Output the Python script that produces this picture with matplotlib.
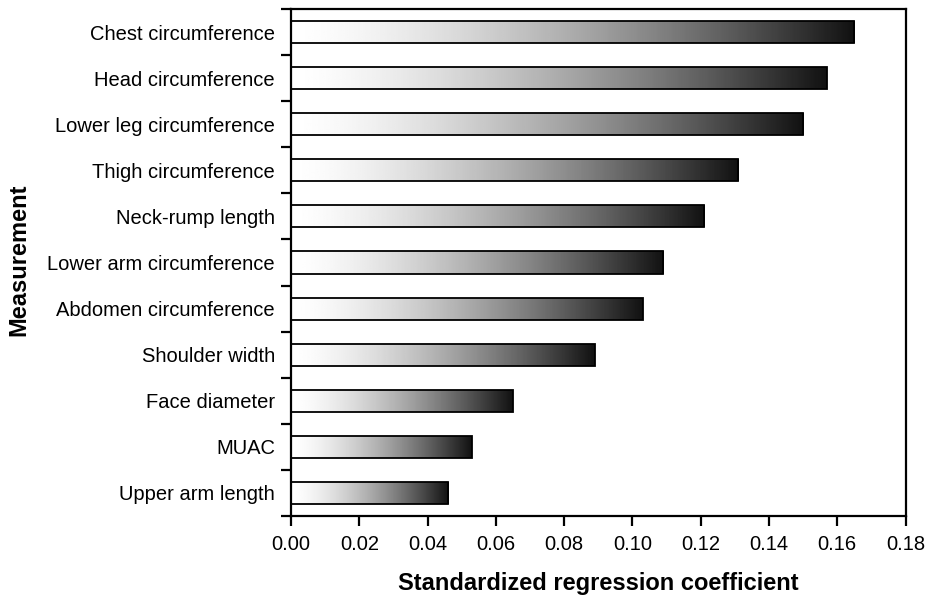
import numpy as np
import matplotlib
matplotlib.use("Agg")
import matplotlib.pyplot as plt
from matplotlib.ticker import FixedLocator

plt.rcParams["font.family"] = ["Liberation Sans", "DejaVu Sans"]

# === data ===
measurements = [
    "Chest circumference",
    "Head circumference",
    "Lower leg circumference",
    "Thigh circumference",
    "Neck-rump length",
    "Lower arm circumference",
    "Abdomen circumference",
    "Shoulder width",
    "Face diameter",
    "MUAC",
    "Upper arm length",
]
coefficients = [0.165, 0.157, 0.150, 0.131, 0.121, 0.109, 0.103, 0.089, 0.065, 0.053, 0.046]
x_ticks = [0.00, 0.02, 0.04, 0.06, 0.08, 0.10, 0.12, 0.14, 0.16, 0.18]

W, H = 926, 599
AX_L, AX_R, AX_T, AX_B = 291, 905.5, 9, 516
fig = plt.figure(figsize=(W / 100, H / 100), dpi=100)
ax = fig.add_axes([AX_L / W, 1 - AX_B / H, (AX_R - AX_L) / W, (AX_B - AX_T) / H])

# white -> black gradient, a little eased so the left stays light
t = np.linspace(0, 1, 256)
grad = (1 - 0.93 * t ** 1.5).reshape(1, -1)

bar_h = 0.48
ypos = np.arange(len(measurements))
bars = ax.barh(ypos, coefficients, height=bar_h, facecolor="none",
               edgecolor="black", linewidth=1.3, zorder=3)
for b in bars:
    x0, y0 = b.get_x(), b.get_y()
    w, h = b.get_width(), b.get_height()
    im = ax.imshow(grad, cmap="gray", vmin=0, vmax=1, aspect="auto",
                   extent=(x0, x0 + w, y0 + h, y0), interpolation="bilinear",
                   zorder=2)
    im.set_clip_path(b)

ax.set_xlim(0, 0.18)
ax.set_ylim(len(measurements) - 0.5, -0.5)

ax.set_xticks(x_ticks)
ax.set_xticklabels([f"{v:.2f}" for v in x_ticks])
ax.set_yticks(ypos)
ax.set_yticklabels(measurements)
ax.yaxis.set_minor_locator(FixedLocator(np.arange(-0.5, len(measurements), 1.0)))

ax.tick_params(axis="x", which="major", direction="out", length=7, width=1.6,
               labelsize=14.5, pad=7)
ax.tick_params(axis="y", which="major", length=0, labelsize=14.5, pad=11.5)
ax.tick_params(axis="y", which="minor", direction="out", length=7, width=1.6)

for sp in ax.spines.values():
    sp.set_linewidth(1.6)

aw = AX_R - AX_L
ah = AX_B - AX_T
ax.set_xlabel("Standardized regression coefficient", fontsize=17,
              fontweight="bold", va="top")
ax.xaxis.set_label_coords(0.5, -(572 - AX_B) / ah)
ax.set_ylabel("Measurement", fontsize=17, fontweight="bold")
ax.yaxis.set_label_coords(-(AX_L - 30) / aw, 0.505)

fig.savefig("out.png", dpi=100)
